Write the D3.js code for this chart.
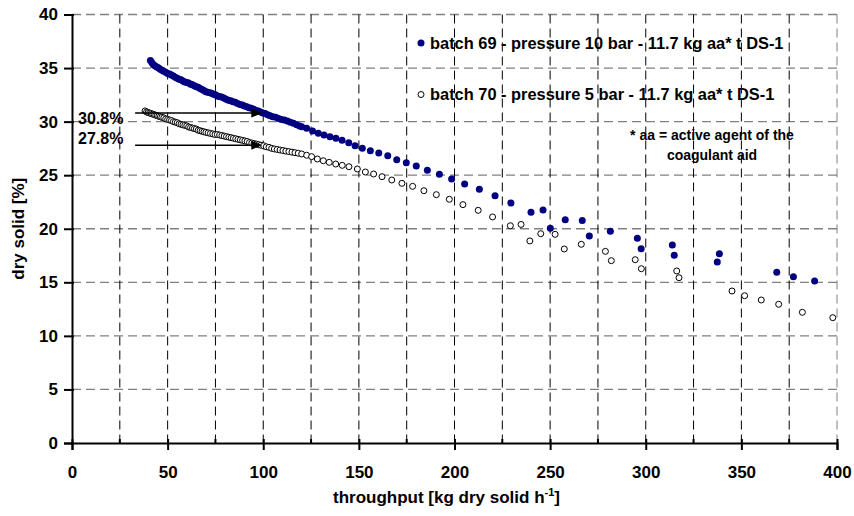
<!DOCTYPE html>
<html>
<head>
<meta charset="utf-8">
<script src="https://cdn.jsdelivr.net/npm/d3@7"></script>
<style>
    body { margin: 0; background: #fff; }
    text { font-family: "Liberation Sans", Arial, sans-serif; font-weight: bold; }
</style>
</head>
<body>
<script>
// batch 69 - pressure 10 bar (filled navy dots)
var b69X = [41.0, 41.8, 42.6, 43.5, 44.4, 45.3, 46.2, 47.1, 48.0, 49.0, 50.0,
    51.0, 52.0, 53.0, 54.0, 55.0, 56.0, 57.0, 58.0, 59.0, 60.0, 61.0, 62.0,
    63.0, 64.0, 65.0, 66.0, 67.0, 68.0, 69.0, 70.0, 71.0, 72.0, 73.0, 74.0,
    75.0, 76.0, 77.0, 78.2, 79.4, 80.6, 81.8, 83.0, 84.2, 85.4, 86.6, 87.8,
    89.0, 90.2, 91.4, 92.6, 93.8, 95.0, 96.2, 97.4, 98.6, 99.8, 101.0, 102.3,
    103.6, 105.0, 106.5, 108.0, 109.5, 111.0, 112.6, 114.2, 115.8, 117.5,
    119.0, 120.1, 122.7, 125.8, 128.8, 131.8, 134.9, 138.0, 141.2, 144.7,
    148.0, 151.8, 156.0, 160.4, 165.1, 169.8, 174.8, 180.0, 185.8, 192.1,
    198.5, 205.3, 213.0, 221.2, 229.5, 240.0, 246.3, 250.1, 257.9, 266.8,
    270.5, 281.5, 295.6, 297.6, 313.9, 314.9, 337.4, 338.5, 368.5, 377.2,
    388.3];
var b69Y = [35.7, 35.5, 35.3, 35.2, 35.1, 35.0, 34.9, 34.8, 34.7, 34.6, 34.5,
    34.45, 34.35, 34.25, 34.15, 34.05, 33.95, 33.9, 33.8, 33.7, 33.65, 33.6,
    33.5, 33.45, 33.35, 33.25, 33.2, 33.1, 33.0, 32.9, 32.8, 32.75, 32.7,
    32.65, 32.55, 32.5, 32.4, 32.35, 32.3, 32.2, 32.1, 32.0, 31.95, 31.85,
    31.8, 31.7, 31.6, 31.55, 31.45, 31.4, 31.3, 31.25, 31.15, 31.05, 31.0,
    30.9, 30.8, 30.75, 30.65, 30.55, 30.45, 30.4, 30.3, 30.2, 30.15, 30.05,
    29.95, 29.85, 29.7, 29.6, 29.53, 29.38, 29.13, 28.91, 28.75, 28.59, 28.44,
    28.26, 28.03, 27.75, 27.51, 27.29, 27.07, 26.82, 26.45, 26.17, 25.86,
    25.46, 25.08, 24.64, 24.18, 23.68, 23.08, 22.40, 21.54, 21.75, 20.04,
    20.83, 20.76, 19.32, 19.76, 19.11, 18.14, 18.48, 17.52, 16.90, 17.67,
    15.94, 15.53, 15.12];

// batch 70 - pressure 5 bar (open circles)
var b70X = [38.2, 39.0, 39.8, 40.6, 41.4, 42.2, 43.0, 43.8, 44.6, 45.4, 46.2,
    47.0, 48.0, 49.0, 50.0, 51.0, 52.0, 53.0, 54.0, 55.0, 56.0, 57.0, 58.0,
    59.0, 60.0, 61.0, 62.0, 63.0, 64.0, 65.0, 66.0, 67.0, 68.0, 69.0, 70.0,
    71.2, 72.4, 73.6, 74.8, 76.0, 77.2, 78.4, 79.6, 80.8, 82.0, 83.2, 84.4,
    85.6, 86.8, 88.0, 89.2, 90.4, 91.6, 92.8, 94.0, 95.2, 96.4, 97.6, 98.8,
    100.2, 101.6, 103.0, 104.4, 105.8, 107.3, 108.8, 110.3, 111.8, 113.4,
    115.0, 116.6, 118.3, 120.1, 122.7, 125.3, 128.3, 131.4, 134.5, 137.9,
    141.3, 144.8, 149.2, 153.4, 157.7, 162.1, 167.2, 172.5, 178.1, 184.0,
    190.5, 197.3, 204.4, 212.4, 219.9, 229.2, 234.8, 239.4, 245.1, 252.6,
    257.4, 266.3, 278.9, 282.0, 294.5, 297.7, 316.2, 317.4, 345.1, 351.7,
    360.4, 369.5, 381.9, 397.8];
var b70Y = [31.0, 30.9, 30.85, 30.8, 30.75, 30.7, 30.65, 30.6, 30.55, 30.5,
    30.45, 30.4, 30.35, 30.25, 30.2, 30.15, 30.1, 30.0, 29.95, 29.9, 29.8,
    29.75, 29.7, 29.65, 29.6, 29.5, 29.45, 29.4, 29.35, 29.3, 29.2, 29.15,
    29.1, 29.05, 29.0, 28.95, 28.9, 28.85, 28.8, 28.8, 28.75, 28.7, 28.65,
    28.6, 28.55, 28.5, 28.45, 28.4, 28.35, 28.3, 28.25, 28.2, 28.15, 28.05,
    28.0, 27.95, 27.9, 27.85, 27.8, 27.75, 27.65, 27.6, 27.5, 27.45, 27.4,
    27.35, 27.3, 27.25, 27.2, 27.15, 27.1, 27.05, 26.98, 26.86, 26.73, 26.51,
    26.35, 26.20, 26.04, 25.92, 25.79, 25.58, 25.30, 25.11, 24.86, 24.55,
    24.24, 23.96, 23.55, 23.18, 22.75, 22.25, 21.72, 21.10, 20.28, 20.40,
    18.86, 19.54, 19.48, 18.11, 18.55, 17.89, 17.02, 17.11, 16.27, 16.06,
    15.43, 14.19, 13.75, 13.35, 12.95, 12.20, 11.70];

var xTicks = [0, 50, 100, 150, 200, 250, 300, 350, 400];
var xGrid = d3.range(0, 401, 25);
var yTicks = [0, 5, 10, 15, 20, 25, 30, 35, 40];

var legendLabels = ["batch 69 - pressure 10 bar - 11.7 kg aa* t DS-1",
    "batch 70 - pressure 5 bar - 11.7 kg aa* t DS-1"];
var noteLines = ["* aa = active agent of the", "coagulant aid"];

// arrows: dry solid level, start and end on the throughput axis
var arrowLevels = [30.8, 27.8];
var arrowFrom = 33;
var arrowTo = 99.5;

var width = 854, height = 516;
var margin = {top: 14.5, right: 17, bottom: 73, left: 72};

var svg = d3.select("body").append("svg")
    .attr("width", width)
    .attr("height", height);

var xScale = d3.scaleLinear().domain([0, 400])
    .range([margin.left, width - margin.right]);
var yScale = d3.scaleLinear().domain([0, 40])
    .range([height - margin.bottom, margin.top]);

// grid
svg.append("g").selectAll("line")
    .data(yTicks.filter(function(d) { return d > 0; }))
    .enter().append("line")
    .attr("x1", xScale(0)).attr("x2", xScale(400))
    .attr("y1", function(d) { return yScale(d); })
    .attr("y2", function(d) { return yScale(d); })
    .attr("stroke", "#808080")
    .attr("stroke-width", 1.3)
    .attr("stroke-dasharray", "9,5");

svg.append("g").selectAll("line")
    .data(xGrid.filter(function(d) { return d > 0; }))
    .enter().append("line")
    .attr("x1", function(d) { return xScale(d); })
    .attr("x2", function(d) { return xScale(d); })
    .attr("y1", yScale(40)).attr("y2", yScale(0))
    .attr("stroke", function(d) { return d === 400 ? "#808080" : "#000"; })
    .attr("stroke-width", 1)
    .attr("stroke-dasharray", "9,5");

// axes
var xAxis = d3.axisBottom(xScale).tickValues(xTicks)
    .tickSize(7).tickPadding(16);
var gx = svg.append("g")
    .attr("transform", "translate(0," + yScale(0) + ")")
    .call(xAxis);
gx.select(".domain").attr("stroke-width", 2);
gx.selectAll(".tick line").attr("y1", -4).attr("stroke-width", 2);
gx.selectAll(".tick text")
    .attr("font-size", "17px")
    .attr("font-family", "Liberation Sans, Arial, sans-serif")
    .attr("font-weight", "bold");

// minor ticks every 25
svg.append("g").selectAll("line")
    .data(xGrid.filter(function(d) { return d % 50 !== 0; }))
    .enter().append("line")
    .attr("x1", function(d) { return xScale(d); })
    .attr("x2", function(d) { return xScale(d); })
    .attr("y1", yScale(0) - 4).attr("y2", yScale(0))
    .attr("stroke", "#000").attr("stroke-width", 2);

var yAxis = d3.axisLeft(yScale).tickValues(yTicks)
    .tickSize(8).tickPadding(6);
var gy = svg.append("g")
    .attr("transform", "translate(" + xScale(0) + ",0)")
    .call(yAxis);
gy.select(".domain").attr("stroke-width", 2);
gy.selectAll(".tick line").attr("x1", 2).attr("stroke-width", 2);
gy.selectAll(".tick text")
    .attr("font-size", "17px")
    .attr("font-family", "Liberation Sans, Arial, sans-serif")
    .attr("font-weight", "bold");

// axis titles
svg.append("text")
    .attr("transform", "translate(24," + yScale(20) + ") rotate(-90)")
    .attr("text-anchor", "middle")
    .attr("font-size", "17px")
    .text("dry solid [%]");

var xt = svg.append("text")
    .attr("x", xScale(200) - 8)
    .attr("y", 503)
    .attr("text-anchor", "middle")
    .attr("font-size", "17px");
xt.append("tspan").text("throughput [kg dry solid h");
xt.append("tspan").attr("font-size", "11px").attr("dy", -7).text("-1");
xt.append("tspan").attr("dy", 7).text("]");

// data points
var pts70 = b70X.map(function(d, i) { return [d, b70Y[i]]; });
var pts69 = b69X.map(function(d, i) { return [d, b69Y[i]]; });

svg.append("g").selectAll("circle")
    .data(pts70)
    .enter().append("circle")
    .attr("cx", function(d) { return xScale(d[0]); })
    .attr("cy", function(d) { return yScale(d[1]); })
    .attr("r", 3)
    .attr("fill", "#fff")
    .attr("stroke", "#000")
    .attr("stroke-width", 1);

svg.append("g").selectAll("circle")
    .data(pts69)
    .enter().append("circle")
    .attr("cx", function(d) { return xScale(d[0]); })
    .attr("cy", function(d) { return yScale(d[1]); })
    .attr("r", 3.5)
    .attr("fill", "#000080");

// arrows drawn on top of the points
var arrows = svg.append("g");
arrows.selectAll("line")
    .data(arrowLevels)
    .enter().append("line")
    .attr("x1", xScale(arrowFrom)).attr("x2", xScale(arrowTo) - 9)
    .attr("y1", function(d) { return yScale(d); })
    .attr("y2", function(d) { return yScale(d); })
    .attr("stroke", "#000").attr("stroke-width", 1.5);
arrows.selectAll("path")
    .data(arrowLevels)
    .enter().append("path")
    .attr("d", function(d) {
        var x = xScale(arrowTo), y = yScale(d);
        return "M" + x + "," + y + " L" + (x - 11) + "," + (y - 4.5) +
            " L" + (x - 11) + "," + (y + 4.5) + " Z";
    })
    .attr("fill", "#000");

svg.append("g").selectAll("text")
    .data(arrowLevels)
    .enter().append("text")
    .attr("x", 78)
    .attr("y", function(d, i) { return 124 + i * 20; })
    .attr("font-size", "16px")
    .text(function(d) { return d.toFixed(1) + "%"; });

// legend
var leg = svg.append("g");
leg.selectAll("circle")
    .data(legendLabels)
    .enter().append("circle")
    .attr("cx", 421)
    .attr("cy", function(d, i) { return 43 + i * 51.5; })
    .attr("r", function(d, i) { return i === 0 ? 3.5 : 3; })
    .attr("fill", function(d, i) { return i === 0 ? "#000080" : "#fff"; })
    .attr("stroke", function(d, i) { return i === 0 ? "none" : "#000"; });
leg.selectAll("text")
    .data(legendLabels)
    .enter().append("text")
    .attr("x", 430)
    .attr("y", function(d, i) { return 48.5 + i * 51.5; })
    .attr("font-size", "16.4px")
    .text(function(d) { return d; });

svg.append("g").selectAll("text")
    .data(noteLines)
    .enter().append("text")
    .attr("x", 712)
    .attr("y", function(d, i) { return 140 + i * 19.5; })
    .attr("text-anchor", "middle")
    .attr("font-size", "14px")
    .text(function(d) { return d; });
</script>
</body>
</html>
